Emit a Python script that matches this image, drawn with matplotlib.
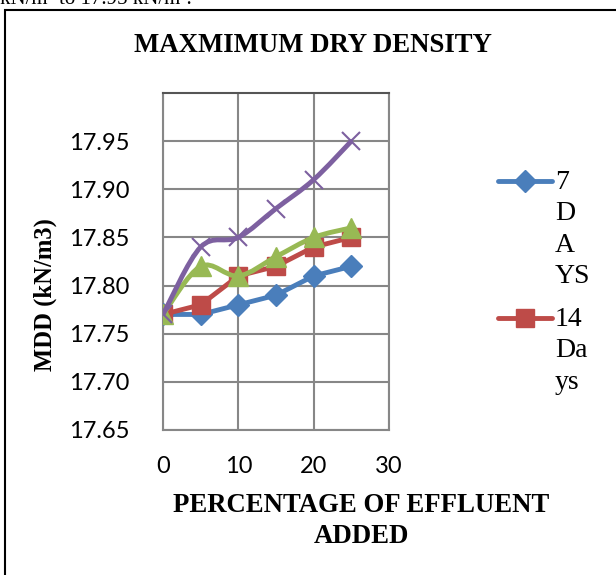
import matplotlib
matplotlib.use("Agg")
import matplotlib.pyplot as plt
from matplotlib.path import Path
from matplotlib.patches import PathPatch, Rectangle
from matplotlib.lines import Line2D

# data
pct = [0, 5, 10, 15, 20, 25]
mdd_7 = [17.77, 17.77, 17.78, 17.79, 17.81, 17.82]
mdd_14 = [17.77, 17.78, 17.81, 17.82, 17.84, 17.85]
mdd_28 = [17.77, 17.82, 17.81, 17.83, 17.85, 17.86]
mdd_56 = [17.77, 17.84, 17.85, 17.88, 17.91, 17.95]
x_ticks = [0, 10, 20, 30]
y_ticks = [17.65, 17.70, 17.75, 17.80, 17.85, 17.90, 17.95]

BLUE = "#4A7EBB"
RED = "#BE4B48"
GREEN = "#98B954"
PURPLE = "#7D60A0"
GRID = "#878787"


def smooth_path(xs, ys):
    # excel-style smoothed line: cubic bezier through every point
    pts = list(zip(xs, ys))
    n = len(pts)
    verts = [pts[0]]
    codes = [Path.MOVETO]
    for i in range(n - 1):
        p0 = pts[i - 1] if i > 0 else pts[i]
        p1 = pts[i]
        p2 = pts[i + 1]
        p3 = pts[i + 2] if i + 2 < n else pts[i + 1]
        c1 = (p1[0] + (p2[0] - p0[0]) / 6, p1[1] + (p2[1] - p0[1]) / 6)
        c2 = (p2[0] - (p3[0] - p1[0]) / 6, p2[1] - (p3[1] - p1[1]) / 6)
        verts += [c1, c2, p2]
        codes += [Path.CURVE4] * 3
    return Path(verts, codes)


fig = plt.figure(figsize=(6.16, 5.75), dpi=100)
fig.patch.set_facecolor("white")

# page border of the chart box
fig.patches.append(Rectangle((5 / 616, -0.1), 1.0, 1.1 - 10 / 575,
                             transform=fig.transFigure, fill=False,
                             edgecolor="black", linewidth=1.5))
fig.text(0.0, 1 + 1 / 575, "kN/m\u00b3 to 17.95 kN/m\u00b3.", family="Liberation Serif",
         fontsize=15, ha="left", va="center")

ax = fig.add_axes([163 / 616, 1 - 430 / 575, 226 / 616, 337 / 575])
ax.set_xlim(0, 30)
ax.set_ylim(17.65, 18.00)
ax.set_xticks(x_ticks)
ax.set_yticks(y_ticks)
ax.set_yticklabels([f"{v:.2f}" for v in y_ticks])
ax.grid(True, color=GRID, linewidth=1.5)
ax.set_axisbelow(True)
for s in ax.spines.values():
    s.set_color(GRID)
    s.set_linewidth(1.5)
ax.spines["top"].set_color("#555555")
ax.tick_params(length=0, labelsize=17)
for lab in ax.get_xticklabels() + ax.get_yticklabels():
    lab.set_family("Lato")
ax.tick_params(axis="x", pad=19)
ax.tick_params(axis="y", pad=24)

ax.plot(pct, mdd_7, color=BLUE, lw=3.5, marker="D", ms=11, mec=BLUE, zorder=3)
ax.plot(pct, mdd_14, color=RED, lw=3.5, marker="s", ms=13, mec=RED, zorder=3)
ax.add_patch(PathPatch(smooth_path(pct, mdd_28), fill=False, edgecolor=GREEN,
                       lw=3.5, zorder=4))
ax.plot(pct, mdd_28, ls="none", marker="^", ms=15, color=GREEN, zorder=4)
ax.add_patch(PathPatch(smooth_path(pct, mdd_56), fill=False, edgecolor=PURPLE,
                       lw=3.5, zorder=5))
ax.plot(pct, mdd_56, ls="none", marker="x", ms=13, mew=1.5, color=PURPLE, zorder=5)

fig.text(313 / 616, 1 - 46 / 575, "MAXMIMUM DRY DENSITY", family="Liberation Serif",
         weight="bold", fontsize=19.3, ha="center", va="center")
fig.text(45 / 616, 1 - 295 / 575, "MDD (kN/m3)", family="Liberation Serif",
         weight="bold", fontsize=17.7, rotation=90, ha="center", va="center")
fig.text(361 / 616, 1 - 521 / 575, "PERCENTAGE OF EFFLUENT\nADDED",
         family="Liberation Serif", weight="bold", fontsize=19.3, ha="center",
         va="center", linespacing=1.32)

# legend (only two entries visible in the original box)
legend_items = [(BLUE, "D", 11, "7\nD\nA\nYS", 181), (RED, "s", 13, "14\nDa\nys", 318)]
for col, mk, size, label, ypix in legend_items:
    yf = 1 - ypix / 575
    fig.add_artist(Line2D([498 / 616, 552 / 616], [yf, yf], transform=fig.transFigure,
                          color=col, lw=3.5, solid_capstyle="round"))
    fig.add_artist(Line2D([525 / 616], [yf], transform=fig.transFigure, color=col,
                          marker=mk, ms=size, mec=col))
    fig.text(555 / 616, yf + 11 / 575, label, family="Liberation Serif", fontsize=20,
             ha="left", va="top", linespacing=1.33)

fig.savefig("out.png", dpi=100)
